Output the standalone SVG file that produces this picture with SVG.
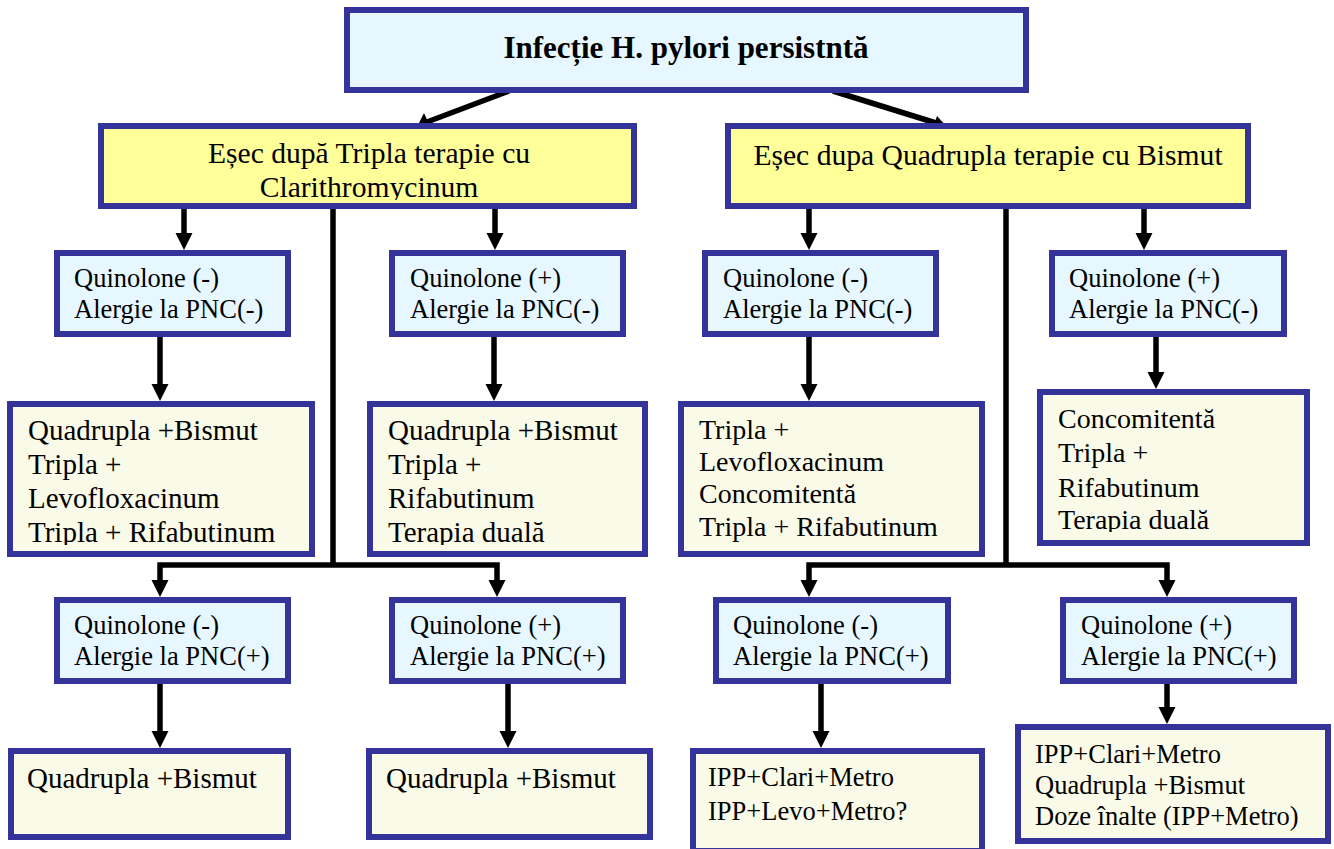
<svg xmlns="http://www.w3.org/2000/svg" width="1334" height="849" viewBox="0 0 1334 849">
<style>
.box{stroke:#333399;stroke-width:6}
.cyan{fill:#e6f7ff}
.yel{fill:#ffff99}
.ivo{fill:#fafae8}
text{font-family:"Liberation Serif","Times New Roman",serif;fill:#000}
.t2{font-size:26.5px}
.t3{font-size:29px}
.t3b{font-size:28px}
.t5{font-size:26.5px}
.ty{font-size:29.6px}
.title{font-size:31px;font-weight:bold}
.ln{stroke:#000;stroke-width:5.5;fill:none}
.ah{fill:#000}
</style>
<defs>
<clipPath id="cY"><rect x="100" y="123" width="538" height="77"/></clipPath>
<clipPath id="cA3"><rect x="7" y="401" width="308" height="144"/></clipPath>
<clipPath id="cB3"><rect x="367" y="401" width="281" height="144"/></clipPath>
<clipPath id="cD3"><rect x="1037" y="389" width="273" height="143"/></clipPath>
</defs>

<g id="connectors">
<line class="ln" x1="509" y1="91" x2="427" y2="122"/>
<polygon class="ah" points="417,127 424,113 431,128"/>
<line class="ln" x1="833" y1="91" x2="936" y2="123"/>
<polygon class="ah" points="947,127 932,131 937,116"/>

<line class="ln" x1="184" y1="209" x2="184" y2="236"/>
<polygon class="ah" points="175.5,233 192.5,233 184,250"/>
<line class="ln" x1="495" y1="209" x2="495" y2="236"/>
<polygon class="ah" points="486.5,233 503.5,233 495,250"/>
<line class="ln" x1="809" y1="209" x2="809" y2="236"/>
<polygon class="ah" points="800.5,233 817.5,233 809,250"/>
<line class="ln" x1="1144" y1="209" x2="1144" y2="236"/>
<polygon class="ah" points="1135.5,233 1152.5,233 1144,250"/>

<line class="ln" x1="160" y1="337" x2="160" y2="387"/>
<polygon class="ah" points="151.5,384 168.5,384 160,401"/>
<line class="ln" x1="494" y1="337" x2="494" y2="387"/>
<polygon class="ah" points="485.5,384 502.5,384 494,401"/>
<line class="ln" x1="809" y1="337" x2="809" y2="387"/>
<polygon class="ah" points="800.5,384 817.5,384 809,401"/>
<line class="ln" x1="1156" y1="337" x2="1156" y2="375"/>
<polygon class="ah" points="1147.5,372 1164.5,372 1156,389"/>

<polyline class="ln" points="333,209 333,565"/>
<polyline class="ln" points="160,583 160,565 497,565 497,583"/>
<polygon class="ah" points="151.5,580 168.5,580 160,597"/>
<polygon class="ah" points="488.5,580 505.5,580 497,597"/>
<polyline class="ln" points="1006,209 1006,565"/>
<polyline class="ln" points="809,583 809,565 1167,565 1167,583"/>
<polygon class="ah" points="800.5,580 817.5,580 809,597"/>
<polygon class="ah" points="1158.5,580 1175.5,580 1167,597"/>

<line class="ln" x1="160" y1="684" x2="160" y2="734"/>
<polygon class="ah" points="151.5,731 168.5,731 160,748"/>
<line class="ln" x1="508" y1="684" x2="508" y2="734"/>
<polygon class="ah" points="499.5,731 516.5,731 508,748"/>
<line class="ln" x1="821" y1="684" x2="821" y2="734"/>
<polygon class="ah" points="812.5,731 829.5,731 821,748"/>
<line class="ln" x1="1167" y1="684" x2="1167" y2="710"/>
<polygon class="ah" points="1158.5,707 1175.5,707 1167,724"/>
</g>

<g id="root">
<rect class="box cyan" x="347" y="10" width="679" height="80"/>
<text class="title" x="686" y="58" text-anchor="middle">Infecție H. pylori persistntă</text>
</g>

<g id="esec-tripla">
<rect class="box yel" x="101" y="126" width="533" height="80"/>
<g clip-path="url(#cY)">
<text class="ty" x="369" y="163" text-anchor="middle">Eșec după Tripla terapie cu</text>
<text class="ty" x="369" y="197" text-anchor="middle">Clarithromycinum</text>
</g>
</g>

<g id="esec-quadrupla">
<rect class="box yel" x="728" y="126" width="520" height="80"/>
<text class="ty" x="988" y="165" text-anchor="middle">Eșec dupa Quadrupla terapie cu Bismut</text>
</g>

<g id="q-neg-pnc-neg-L">
<rect class="box cyan" x="57" y="253" width="231" height="81"/>
<text class="t2" x="74" y="287">Quinolone (-)</text>
<text class="t2" x="74" y="318">Alergie la PNC(-)</text>
</g>

<g id="q-pos-pnc-neg-L">
<rect class="box cyan" x="392" y="253" width="231" height="81"/>
<text class="t2" x="410" y="287">Quinolone (+)</text>
<text class="t2" x="410" y="318">Alergie la PNC(-)</text>
</g>

<g id="q-neg-pnc-neg-R">
<rect class="box cyan" x="705" y="253" width="231" height="81"/>
<text class="t2" x="723" y="287">Quinolone (-)</text>
<text class="t2" x="723" y="318">Alergie la PNC(-)</text>
</g>

<g id="q-pos-pnc-neg-R">
<rect class="box cyan" x="1052" y="253" width="232" height="81"/>
<text class="t2" x="1069" y="287">Quinolone (+)</text>
<text class="t2" x="1069" y="318">Alergie la PNC(-)</text>
</g>

<g id="res-A3">
<rect class="box ivo" x="10" y="404" width="302" height="150"/>
<g clip-path="url(#cA3)">
<text class="t3" x="28" y="440">Quadrupla +Bismut</text>
<text class="t3" x="28" y="474">Tripla +</text>
<text class="t3" x="28" y="508">Levofloxacinum</text>
<text class="t3" x="28" y="542">Tripla + Rifabutinum</text>
</g>
</g>

<g id="res-B3">
<rect class="box ivo" x="370" y="404" width="275" height="150"/>
<g clip-path="url(#cB3)">
<text class="t3" x="388" y="440">Quadrupla +Bismut</text>
<text class="t3" x="388" y="474">Tripla +</text>
<text class="t3" x="388" y="508">Rifabutinum</text>
<text class="t3" x="388" y="542">Terapia duală</text>
</g>
</g>

<g id="res-C3">
<rect class="box ivo" x="681" y="404" width="301" height="150"/>
<text class="t3b" x="699" y="439">Tripla +</text>
<text class="t3b" x="699" y="471">Levofloxacinum</text>
<text class="t3b" x="699" y="503">Concomitentă</text>
<text class="t3b" x="699" y="536">Tripla + Rifabutinum</text>
</g>

<g id="res-D3">
<rect class="box ivo" x="1040" y="392" width="267" height="151"/>
<g clip-path="url(#cD3)">
<text class="t3b" x="1058" y="428">Concomitentă</text>
<text class="t3b" x="1058" y="462">Tripla +</text>
<text class="t3b" x="1058" y="497">Rifabutinum</text>
<text class="t3b" x="1058" y="529">Terapia duală</text>
</g>
</g>

<g id="q-neg-pnc-pos-L">
<rect class="box cyan" x="57" y="600" width="231" height="81"/>
<text class="t2" x="74" y="634">Quinolone (-)</text>
<text class="t2" x="74" y="665">Alergie la PNC(+)</text>
</g>

<g id="q-pos-pnc-pos-L">
<rect class="box cyan" x="392" y="600" width="231" height="81"/>
<text class="t2" x="410" y="634">Quinolone (+)</text>
<text class="t2" x="410" y="665">Alergie la PNC(+)</text>
</g>

<g id="q-neg-pnc-pos-R">
<rect class="box cyan" x="716" y="600" width="232" height="81"/>
<text class="t2" x="733" y="634">Quinolone (-)</text>
<text class="t2" x="733" y="665">Alergie la PNC(+)</text>
</g>

<g id="q-pos-pnc-pos-R">
<rect class="box cyan" x="1063" y="600" width="231" height="81"/>
<text class="t2" x="1081" y="634">Quinolone (+)</text>
<text class="t2" x="1081" y="665">Alergie la PNC(+)</text>
</g>

<g id="res-A5">
<rect class="box ivo" x="11" y="751" width="277" height="86"/>
<text class="t3" x="27" y="788">Quadrupla +Bismut</text>
</g>

<g id="res-B5">
<rect class="box ivo" x="369" y="751" width="281" height="86"/>
<text class="t3" x="386" y="788">Quadrupla +Bismut</text>
</g>

<g id="res-C5">
<rect class="box ivo" x="693" y="751" width="289" height="100"/>
<text class="t5" x="708" y="786">IPP+Clari+Metro</text>
<text class="t5" x="708" y="820">IPP+Levo+Metro?</text>
</g>

<g id="res-D5">
<rect class="box ivo" x="1018" y="727" width="310" height="114"/>
<text class="t5" x="1035" y="763">IPP+Clari+Metro</text>
<text class="t5" x="1035" y="794">Quadrupla +Bismut</text>
<text class="t5" x="1035" y="825">Doze înalte (IPP+Metro)</text>
</g>
</svg>
